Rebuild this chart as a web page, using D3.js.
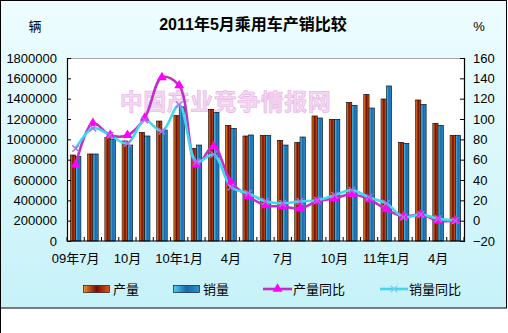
<!DOCTYPE html>
<html><head><meta charset="utf-8">
<script src="https://cdn.jsdelivr.net/npm/d3@7"></script>
<style>
html,body{margin:0;padding:0;background:#fff;}
svg{display:block;}
text{font-family:"Liberation Sans",Arial,"Noto Sans CJK SC",sans-serif;}
</style></head>
<body><svg id="c" width="508" height="333"></svg>
<script>
const categories = ["09年7月","09年8月","09年9月","09年10月","09年11月","09年12月","10年1月","10年2月","10年3月","10年4月","10年5月","10年6月","10年7月","10年8月","10年9月","10年10月","10年11月","10年12月","11年1月","11年2月","11年3月","11年4月","11年5月"];
const tickLabels = ["09年7月","","","10月","","","10年1月","","","4月","","","7月","","","10月","","","11年1月","","","4月",""];
const production = [846000,856000,1020000,984000,1069000,1180000,1236000,912000,1295000,1138000,1033000,1040000,990000,971000,1230000,1197000,1364000,1443000,1397000,971000,1387000,1158000,1040000];
const sales = [830000,856000,1003000,944000,1033000,1092000,1320000,944000,1266000,1108000,1043000,1040000,944000,1023000,1210000,1197000,1335000,1308000,1525000,961000,1344000,1138000,1040000];
const productionYoY = [55,96,84,84,101,141,133,55,73,38,24,15,14,12,19,22,26,21,11,4,6,0,0];
const salesYoY = [71,91,84,76,99,88,114,58,65,33,27,19,17,19,20,25,30,23,17,3.5,6,2,0];
const leftTicks = d3.range(0, 1800001, 200000);
const rightTicks = d3.range(-20, 161, 20);
const title = "2011年5月乘用车产销比较";
const legendNames = ["产量","销量","产量同比","销量同比"];
const watermark = "中国产业竞争情报网";

const svg = d3.select("#c");
const defs = svg.append("defs");
const bg = defs.append("linearGradient").attr("id","bg").attr("x1",0).attr("y1",0).attr("x2",0).attr("y2",1);
bg.append("stop").attr("offset","0%").attr("stop-color","#eefdff");
bg.append("stop").attr("offset","100%").attr("stop-color","#c6f2f8");
const gp = defs.append("linearGradient").attr("id","gp").attr("x1",0).attr("y1",0).attr("x2",1).attr("y2",0);
gp.append("stop").attr("offset","0%").attr("stop-color","#f0902a");
gp.append("stop").attr("offset","50%").attr("stop-color","#780c00");
gp.append("stop").attr("offset","100%").attr("stop-color","#e05818");
const gs = defs.append("linearGradient").attr("id","gs").attr("x1",0).attr("y1",0).attr("x2",1).attr("y2",0);
gs.append("stop").attr("offset","0%").attr("stop-color","#50d0f0");
gs.append("stop").attr("offset","50%").attr("stop-color","#1868b0");
gs.append("stop").attr("offset","100%").attr("stop-color","#2c90d0");

// frame
svg.append("rect").attr("x",0.5).attr("y",0.5).attr("width",506).attr("height",307.5)
  .attr("fill","url(#bg)").attr("stroke","#000").attr("stroke-width",1);
svg.append("line").attr("x1",0.5).attr("x2",0.5).attr("y1",308).attr("y2",333).attr("stroke","#000");

const L = 67, R = 464, T = 58, B = 241;
const x = d3.scaleBand().domain(categories).range([L, R]).paddingInner(0).paddingOuter(0);
const x1 = d3.scaleBand().domain(["p","s"]).range([0, x.bandwidth()]).paddingInner(0).paddingOuter(0.63);
const yL = d3.scaleLinear().domain([0, 1800000]).range([B, T]);
const yR = d3.scaleLinear().domain([-20, 160]).range([B, T]);

// plot area
svg.append("rect").attr("x",L).attr("y",T).attr("width",R-L).attr("height",B-T).attr("fill","#fff");
svg.append("line").attr("x1",L).attr("x2",R).attr("y1",T+0.5).attr("y2",T+0.5).attr("stroke","#a8a8a8");

// watermark
svg.append("text").attr("x", x(categories[3]) + 1).attr("y", 110)
  .attr("font-family","\"Noto Sans CJK SC\",sans-serif").attr("font-weight","bold").attr("font-size",23)
  .attr("letter-spacing",0.5)
  .attr("fill","#f6d0f2").attr("stroke","#e0a8e0").attr("stroke-width",0.6).attr("opacity",0.85)
  .text(watermark);

// bars
const g = svg.append("g");
g.selectAll("rect.p").data(production).join("rect").attr("class","p")
  .attr("x",(d,i)=>x(categories[i])+x1("p")).attr("width",x1.bandwidth())
  .attr("y",d=>yL(d)).attr("height",d=>yL(0)-yL(d))
  .attr("fill","url(#gp)").attr("stroke","#000").attr("stroke-width",0.6);
g.selectAll("rect.s").data(sales).join("rect").attr("class","s")
  .attr("x",(d,i)=>x(categories[i])+x1("s")).attr("width",x1.bandwidth())
  .attr("y",d=>yL(d)).attr("height",d=>yL(0)-yL(d))
  .attr("fill","url(#gs)").attr("stroke","#000").attr("stroke-width",0.6);

// axes
const ax = svg.append("g").attr("transform",`translate(${L},0)`)
  .call(d3.axisLeft(yL).tickValues(leftTicks).tickSize(-4).tickPadding(10).tickFormat(d3.format("d")));
const axR = svg.append("g").attr("transform",`translate(${R},0)`)
  .call(d3.axisRight(yR).tickValues(rightTicks).tickSize(-4).tickPadding(9).tickFormat(d3.format("d")));
const axB = svg.append("g").attr("transform",`translate(0,${B})`)
  .call(d3.axisBottom(x).tickSize(0).tickPadding(13).tickFormat((d,i)=>tickLabels[i]));
[ax,axR,axB].forEach(a=>{
  a.selectAll(".domain").attr("stroke","#000").attr("stroke-width",1.2);
  a.selectAll(".tick line").attr("stroke","#000");
  a.selectAll("text").attr("font-size",13).attr("fill","#000")
    .attr("font-family","\"Liberation Sans\",Arial,\"Noto Sans CJK SC\",sans-serif");
});
axB.select(".domain").remove();
svg.append("line").attr("x1",L).attr("x2",R).attr("y1",B).attr("y2",B).attr("stroke","#000").attr("stroke-width",1.2);
// category boundary ticks
svg.append("g").selectAll("line").data(categories.concat([null])).join("line")
  .attr("x1",(d,i)=> i<categories.length ? x(d) : R).attr("x2",(d,i)=> i<categories.length ? x(d) : R)
  .attr("y1",B).attr("y2",B-4).attr("stroke","#000");

// lines
const cx = i => x(categories[i]) + x.bandwidth()/2;
const line = d3.line().x((d,i)=>cx(i)).y(d=>yR(d)).curve(d3.curveCatmullRom.alpha(0.5));
svg.append("path").datum(productionYoY).attr("d",line).attr("fill","none")
  .attr("stroke","#c030c8").attr("stroke-width",2.6);
svg.append("path").datum(salesYoY).attr("d",line).attr("fill","none")
  .attr("stroke","#40d8f0").attr("stroke-width",2.6);
const tri = d3.symbol().type(d3.symbolTriangle).size(42);
svg.append("g").selectAll("path").data(productionYoY).join("path")
  .attr("transform",(d,i)=>`translate(${cx(i)},${yR(d)})`).attr("d",tri).attr("fill","#ff00ff");
const xs = d3.symbol().type(d3.symbolX).size(30);
svg.append("g").selectAll("path").data(salesYoY).join("path")
  .attr("transform",(d,i)=>`translate(${cx(i)},${yR(d)})`).attr("d",xs)
  .attr("fill","none").attr("stroke","#b070e8").attr("stroke-width",1.4);

// title & units
svg.append("text").attr("x",253).attr("y",30).attr("text-anchor","middle")
  .attr("font-size",16).attr("font-weight","bold").attr("fill","#000")
  .attr("font-family","\"Liberation Sans\",Arial,\"Noto Sans CJK SC\",sans-serif").text(title);
svg.append("text").attr("x",35).attr("y",31).attr("text-anchor","middle").attr("font-size",13)
  .attr("font-family","\"Noto Sans CJK SC\",sans-serif").text("辆");
svg.append("text").attr("x",479).attr("y",31).attr("text-anchor","middle").attr("font-size",13).text("%");

// legend
const ly = 289;
const lg = svg.append("g").attr("font-size",13);
lg.append("rect").attr("x",83.5).attr("y",ly-3.5).attr("width",26).attr("height",7).attr("fill","url(#gp)").attr("stroke","#000").attr("stroke-width",0.6);
lg.append("text").attr("x",113).attr("y",ly+5).text(legendNames[0]);
lg.append("rect").attr("x",173.5).attr("y",ly-3.5).attr("width",26).attr("height",7).attr("fill","url(#gs)").attr("stroke","#000").attr("stroke-width",0.6);
lg.append("text").attr("x",203).attr("y",ly+5).text(legendNames[1]);
lg.append("line").attr("x1",263).attr("x2",292).attr("y1",ly).attr("y2",ly).attr("stroke","#c030c8").attr("stroke-width",2.6);
lg.append("path").attr("transform",`translate(277.5,${ly})`).attr("d",tri).attr("fill","#ff00ff");
lg.append("text").attr("x",293).attr("y",ly+5).text(legendNames[2]);
lg.append("line").attr("x1",380).attr("x2",408).attr("y1",ly).attr("y2",ly).attr("stroke","#40d8f0").attr("stroke-width",2.6);
lg.append("path").attr("transform",`translate(394,${ly})`).attr("d",xs).attr("fill","none").attr("stroke","#80c8f0").attr("stroke-width",1.2);
lg.append("text").attr("x",409).attr("y",ly+5).text(legendNames[3]);
</script></body></html>
